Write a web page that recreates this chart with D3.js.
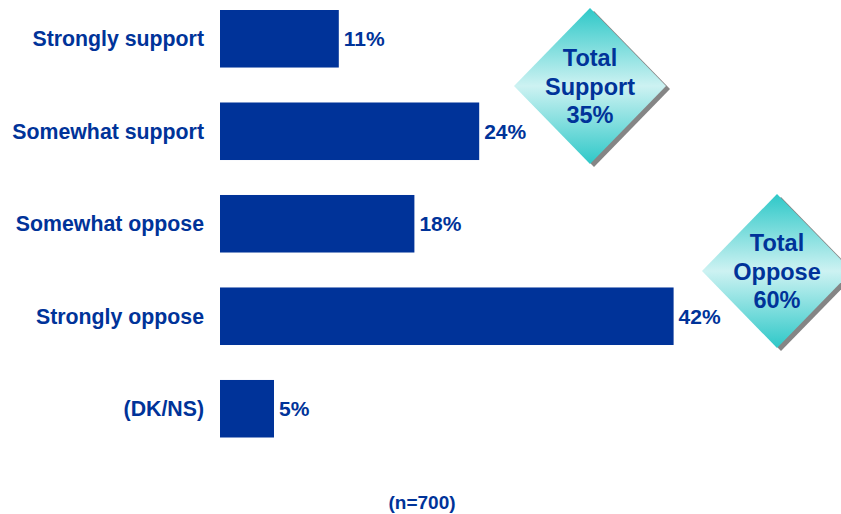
<!DOCTYPE html>
<html><head><meta charset="utf-8">
<script src="https://cdn.jsdelivr.net/npm/d3@7"></script>
<style>body{margin:0;background:#fff}svg{display:block}text{font-family:Arial,"Liberation Sans",sans-serif;font-weight:bold}</style>
</head><body><svg id="c" width="841" height="514"></svg>
<script>
const categories = ["Strongly support","Somewhat support","Somewhat oppose","Strongly oppose","(DK/NS)"];
const values = [11,24,18,42,5];
const summaryLabels = [["Total","Support","35%"],["Total","Oppose","60%"]];
const sampleNote = "(n=700)";

const svg = d3.select("#c");
const blue = "#003399";
const x = d3.scaleLinear().domain([0,50]).range([220,760]);
const y = d3.scaleBand().domain(categories).range([10,437.5]).paddingInner(0.378).paddingOuter(0);

const defs = svg.append("defs");
const g = defs.append("linearGradient").attr("id","dg").attr("x1",0).attr("y1",0).attr("x2",0).attr("y2",1);
g.append("stop").attr("offset","0%").attr("stop-color","#2ec8c8");
g.append("stop").attr("offset","50%").attr("stop-color","#cdf2f2");
g.append("stop").attr("offset","100%").attr("stop-color","#2ec8c8");

svg.selectAll("rect.bar").data(values).join("rect").attr("class","bar")
  .attr("x",x(0)).attr("y",(d,i)=>y(categories[i]))
  .attr("width",d=>x(d)-x(0)).attr("height",y.bandwidth()).attr("fill",blue);

svg.selectAll("text.cat").data(categories).join("text").attr("class","cat")
  .attr("x",204).attr("y",d=>y(d)+y.bandwidth()/2+7.5)
  .attr("text-anchor","end").attr("font-size",21.3).attr("fill",blue).text(d=>d);

svg.selectAll("text.val").data(values).join("text").attr("class","val")
  .attr("x",d=>x(d)+5).attr("y",(d,i)=>y(categories[i])+y.bandwidth()/2+7.5)
  .attr("font-size",21).attr("fill",blue).text(d=>d+"%");

const diamonds = [{cx:590,cy:86,hw:76,hh:78},{cx:777,cy:271,hw:75,hh:77}];
diamonds.forEach((dm,i)=>{
  const pts = (ox,oy)=>[[dm.cx+ox,dm.cy-dm.hh+oy],[dm.cx+dm.hw+ox,dm.cy+oy],[dm.cx+ox,dm.cy+dm.hh+oy],[dm.cx-dm.hw+ox,dm.cy+oy]].map(p=>p.join(",")).join(" ");
  svg.append("polygon").attr("points",pts(4,3)).attr("fill","#858585");
  svg.append("polygon").attr("points",pts(0,0)).attr("fill","url(#dg)");
  const t = svg.append("text").attr("text-anchor","middle").attr("font-size",23.5).attr("fill",blue);
  summaryLabels[i].forEach((s,j)=>{
    t.append("tspan").attr("x",dm.cx).attr("y",dm.cy-20+j*28.5).text(s);
  });
});

svg.append("text").attr("x",422).attr("y",509).attr("text-anchor","middle")
  .attr("font-size",19).attr("fill",blue).text(sampleNote);
</script></body></html>
